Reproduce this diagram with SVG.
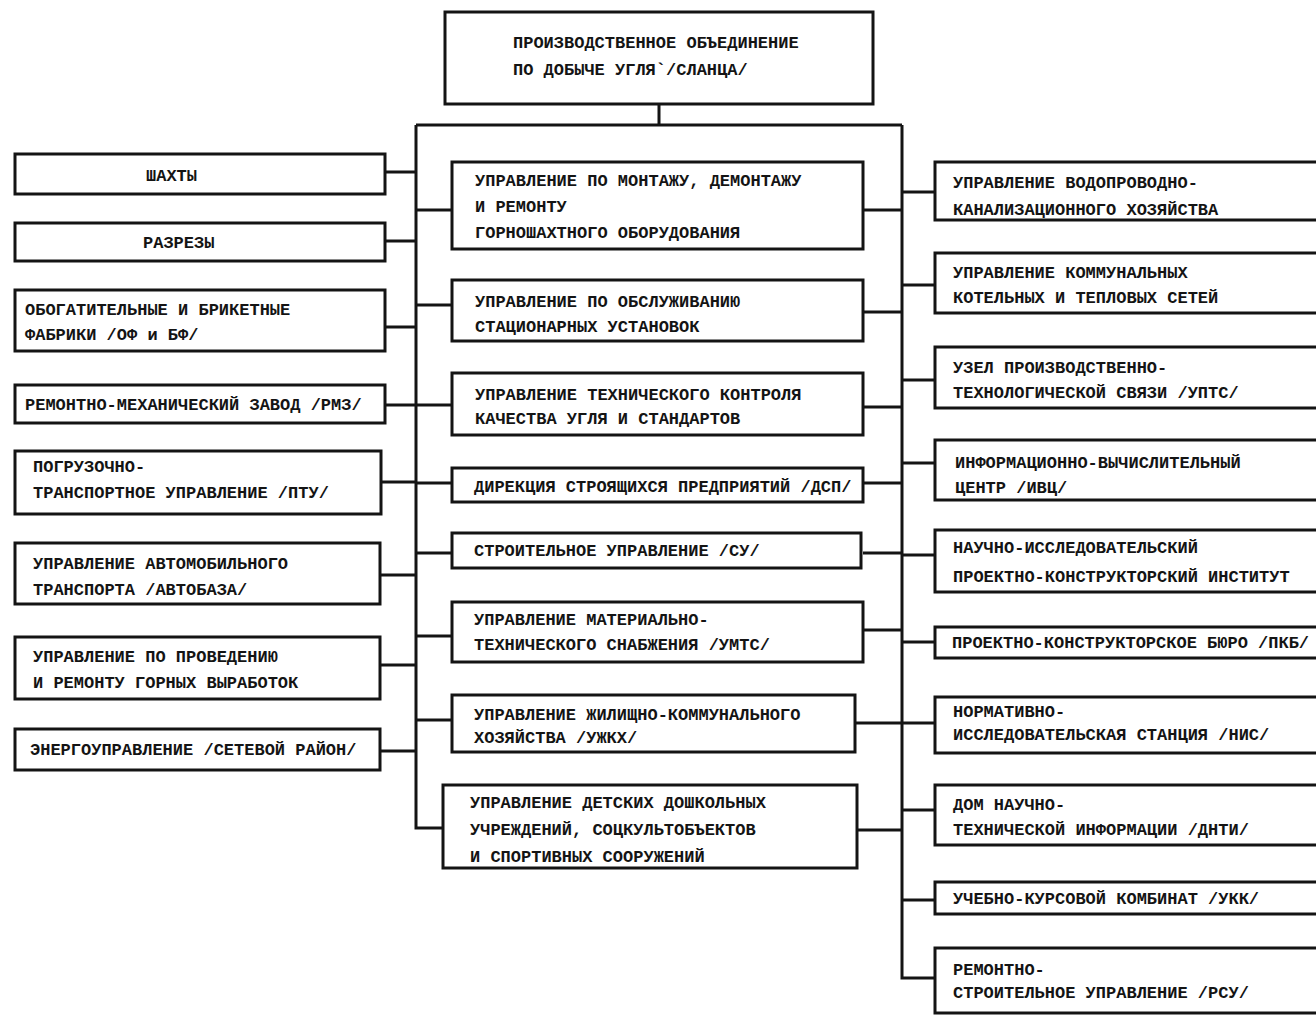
<svg xmlns="http://www.w3.org/2000/svg" width="1316" height="1016" viewBox="0 0 1316 1016">
<style>
.b{fill:#fff;stroke:#141414;stroke-width:3}
.c{fill:none;stroke:#141414;stroke-width:3}
text{font-family:"Liberation Mono","DejaVu Sans Mono",monospace;font-weight:bold;font-size:17px;fill:#141414}
</style>
<rect width="1316" height="1016" fill="#fff"/>
<g id="connectors">
<path class="c" d="M659,104 V125 M416,125 H902 M416,125 V828 H443 M902,125 V978 H935"/>
<path class="c" d="M385,172 H416 M385,241 H416 M385,327 H416 M385,405 H416 M381,482 H416 M380,575 H416 M380,665 H416 M380,751 H416"/>
<path class="c" d="M416,210 H452 M416,305 H452 M416,405 H452 M416,483 H452 M416,553 H452 M416,636 H452 M416,720 H452"/>
<path class="c" d="M863,210 H902 M863,312 H902 M863,407 H902 M863,483 H902 M863,553 H902 M863,630 H902 M855,723 H902 M857,830 H902"/>
<path class="c" d="M902,192 H935 M902,285 H935 M902,380 H935 M902,463 H935 M902,555 H935 M902,642 H935 M902,723 H935 M902,810 H935 M902,900 H935"/>
</g>
<g id="top"><rect class="b" x="445" y="12" width="428" height="92"/><text x="513" y="48">ПРОИЗВОДСТВЕННОЕ ОБЪЕДИНЕНИЕ</text><text x="513" y="75">ПО ДОБЫЧЕ УГЛЯ`/СЛАНЦА/</text></g>
<g id="L1"><rect class="b" x="15" y="154" width="370" height="40"/><text x="146" y="181">ШАХТЫ</text></g>
<g id="L2"><rect class="b" x="15" y="223" width="370" height="38"/><text x="143" y="248">РАЗРЕЗЫ</text></g>
<g id="L3"><rect class="b" x="15" y="290" width="370" height="61"/><text x="25" y="315">ОБОГАТИТЕЛЬНЫЕ И БРИКЕТНЫЕ</text><text x="25" y="340">ФАБРИКИ /ОФ и БФ/</text></g>
<g id="L4"><rect class="b" x="15" y="385" width="370" height="38"/><text x="25" y="410">РЕМОНТНО-МЕХАНИЧЕСКИЙ ЗАВОД /РМЗ/</text></g>
<g id="L5"><rect class="b" x="15" y="451" width="366" height="63"/><text x="33" y="472">ПОГРУЗОЧНО-</text><text x="33" y="498">ТРАНСПОРТНОЕ УПРАВЛЕНИЕ /ПТУ/</text></g>
<g id="L6"><rect class="b" x="15" y="543" width="365" height="61"/><text x="33" y="569">УПРАВЛЕНИЕ АВТОМОБИЛЬНОГО</text><text x="33" y="595">ТРАНСПОРТА /АВТОБАЗА/</text></g>
<g id="L7"><rect class="b" x="15" y="637" width="365" height="62"/><text x="33" y="662">УПРАВЛЕНИЕ ПО ПРОВЕДЕНИЮ</text><text x="33" y="688">И РЕМОНТУ ГОРНЫХ ВЫРАБОТОК</text></g>
<g id="L8"><rect class="b" x="15" y="729" width="365" height="41"/><text x="30" y="755">ЭНЕРГОУПРАВЛЕНИЕ /СЕТЕВОЙ РАЙОН/</text></g>
<g id="M1"><rect class="b" x="452" y="162" width="411" height="87"/><text x="475" y="186">УПРАВЛЕНИЕ ПО МОНТАЖУ, ДЕМОНТАЖУ</text><text x="475" y="212">И РЕМОНТУ</text><text x="475" y="238">ГОРНОШАХТНОГО ОБОРУДОВАНИЯ</text></g>
<g id="M2"><rect class="b" x="452" y="280" width="411" height="61"/><text x="475" y="307">УПРАВЛЕНИЕ ПО ОБСЛУЖИВАНИЮ</text><text x="475" y="332">СТАЦИОНАРНЫХ УСТАНОВОК</text></g>
<g id="M3"><rect class="b" x="452" y="373" width="411" height="62"/><text x="475" y="400">УПРАВЛЕНИЕ ТЕХНИЧЕСКОГО КОНТРОЛЯ</text><text x="475" y="424">КАЧЕСТВА УГЛЯ И СТАНДАРТОВ</text></g>
<g id="M4"><rect class="b" x="452" y="468" width="411" height="34"/><text x="474" y="492">ДИРЕКЦИЯ СТРОЯЩИХСЯ ПРЕДПРИЯТИЙ /ДСП/</text></g>
<g id="M5"><rect class="b" x="452" y="533" width="409" height="35"/><text x="474" y="556">СТРОИТЕЛЬНОЕ УПРАВЛЕНИЕ /СУ/</text></g>
<g id="M6"><rect class="b" x="452" y="602" width="411" height="60"/><text x="474" y="625">УПРАВЛЕНИЕ МАТЕРИАЛЬНО-</text><text x="474" y="650">ТЕХНИЧЕСКОГО СНАБЖЕНИЯ /УМТС/</text></g>
<g id="M7"><rect class="b" x="452" y="695" width="403" height="57"/><text x="474" y="720">УПРАВЛЕНИЕ ЖИЛИЩНО-КОММУНАЛЬНОГО</text><text x="474" y="743">ХОЗЯЙСТВА /УЖКХ/</text></g>
<g id="M8"><rect class="b" x="443" y="785" width="414" height="83"/><text x="470" y="808">УПРАВЛЕНИЕ ДЕТСКИХ ДОШКОЛЬНЫХ</text><text x="470" y="835">УЧРЕЖДЕНИЙ, СОЦКУЛЬТОБЪЕКТОВ</text><text x="470" y="862">И СПОРТИВНЫХ СООРУЖЕНИЙ</text></g>
<g id="R1"><path class="b" d="M1316,162 H935 V220 H1316"/><text x="953" y="188">УПРАВЛЕНИЕ ВОДОПРОВОДНО-</text><text x="953" y="215">КАНАЛИЗАЦИОННОГО ХОЗЯЙСТВА</text></g>
<g id="R2"><path class="b" d="M1316,253 H935 V313 H1316"/><text x="953" y="278">УПРАВЛЕНИЕ КОММУНАЛЬНЫХ</text><text x="953" y="303">КОТЕЛЬНЫХ И ТЕПЛОВЫХ СЕТЕЙ</text></g>
<g id="R3"><path class="b" d="M1316,347 H935 V408 H1316"/><text x="953" y="373">УЗЕЛ ПРОИЗВОДСТВЕННО-</text><text x="953" y="398">ТЕХНОЛОГИЧЕСКОЙ СВЯЗИ /УПТС/</text></g>
<g id="R4"><path class="b" d="M1316,440 H935 V500 H1316"/><text x="955" y="468">ИНФОРМАЦИОННО-ВЫЧИСЛИТЕЛЬНЫЙ</text><text x="955" y="493">ЦЕНТР /ИВЦ/</text></g>
<g id="R5"><path class="b" d="M1316,530 H935 V592 H1316"/><text x="953" y="553">НАУЧНО-ИССЛЕДОВАТЕЛЬСКИЙ</text><text x="953" y="582">ПРОЕКТНО-КОНСТРУКТОРСКИЙ ИНСТИТУТ</text></g>
<g id="R6"><path class="b" d="M1316,627 H935 V658 H1316"/><text x="952" y="648">ПРОЕКТНО-КОНСТРУКТОРСКОЕ БЮРО /ПКБ/</text></g>
<g id="R7"><path class="b" d="M1316,697 H935 V753 H1316"/><text x="953" y="717">НОРМАТИВНО-</text><text x="953" y="740">ИССЛЕДОВАТЕЛЬСКАЯ СТАНЦИЯ /НИС/</text></g>
<g id="R8"><path class="b" d="M1316,785 H935 V845 H1316"/><text x="953" y="810">ДОМ НАУЧНО-</text><text x="953" y="835">ТЕХНИЧЕСКОЙ ИНФОРМАЦИИ /ДНТИ/</text></g>
<g id="R9"><path class="b" d="M1316,882 H935 V914 H1316"/><text x="953" y="904">УЧЕБНО-КУРСОВОЙ КОМБИНАТ /УКК/</text></g>
<g id="R10"><path class="b" d="M1316,948 H935 V1013 H1316"/><text x="953" y="975">РЕМОНТНО-</text><text x="953" y="998">СТРОИТЕЛЬНОЕ УПРАВЛЕНИЕ /РСУ/</text></g>
</svg>
